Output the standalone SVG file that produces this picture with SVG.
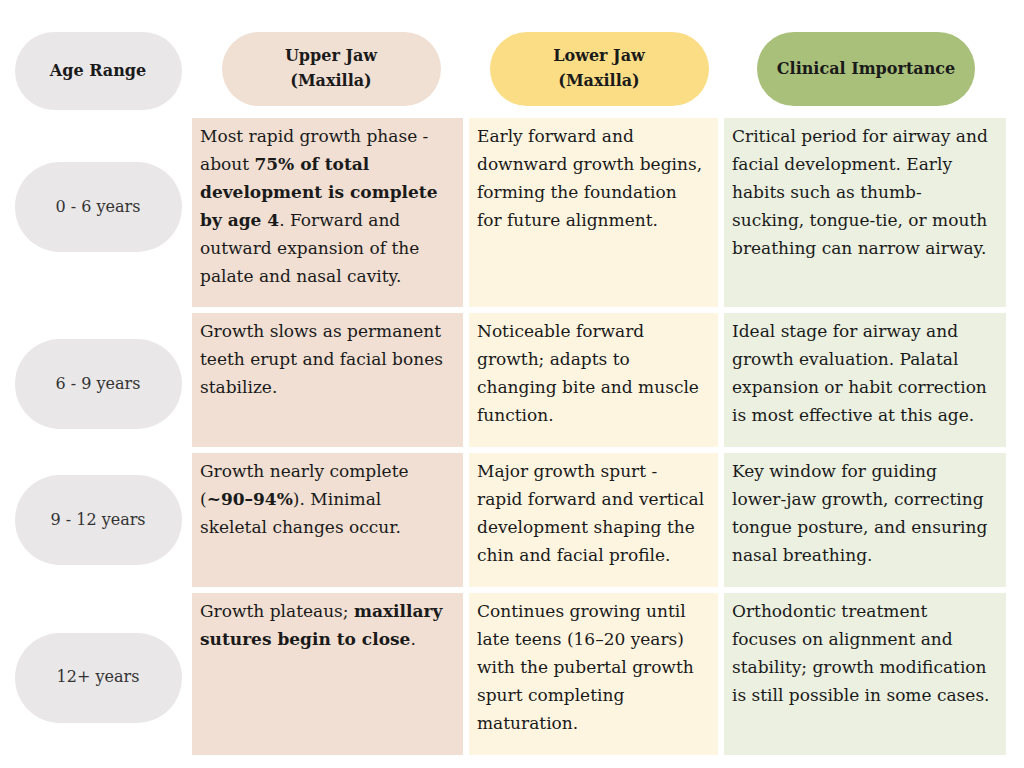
<svg xmlns="http://www.w3.org/2000/svg" width="1024" height="768" viewBox="0 0 1024 768">
<style>
.t{font-family:"DejaVu Serif","Liberation Serif",serif;font-size:17px;fill:#1a1a1a}
.h{font-family:"DejaVu Serif","Liberation Serif",serif;font-size:16px;font-weight:bold;fill:#1a1a1a;text-anchor:middle}
.a{font-family:"DejaVu Serif","Liberation Serif",serif;font-size:16px;fill:#333;text-anchor:middle}
.p{fill:#e9e7e8}
.c1{fill:#f0dfd2}.c2{fill:#fdf5e0}.c3{fill:#ebf0e0}
b{font-weight:bold}
</style>
<rect width="1024" height="768" fill="#fff"/>
<g id="headers">
<g id="h-age"><rect class="p" x="15" y="32" width="167" height="78" rx="39"/><text class="h" x="98" y="76">Age Range</text></g>
<g id="h-upper"><rect x="222" y="32" width="219" height="74" rx="37" fill="#f0dfd3"/><text class="h" x="331" y="61">Upper Jaw</text><text class="h" x="331" y="86">(Maxilla)</text></g>
<g id="h-lower"><rect x="490" y="32" width="219" height="74" rx="37" fill="#fbdd85"/><text class="h" x="599" y="61">Lower Jaw</text><text class="h" x="599" y="86">(Maxilla)</text></g>
<g id="h-clin"><rect x="757" y="32" width="218" height="74" rx="37" fill="#a9c07a"/><text class="h" x="866" y="74">Clinical Importance</text></g>
</g>
<g id="ages">
<g id="a1"><rect class="p" x="15" y="162" width="167" height="90" rx="45"/><text class="a" x="98" y="212">0 - 6 years</text></g>
<g id="a2"><rect class="p" x="15" y="339" width="167" height="90" rx="45"/><text class="a" x="98" y="389">6 - 9 years</text></g>
<g id="a3"><rect class="p" x="15" y="475" width="167" height="90" rx="45"/><text class="a" x="98" y="525">9 - 12 years</text></g>
<g id="a4"><rect class="p" x="15" y="633" width="167" height="90" rx="45"/><text class="a" x="98" y="682">12+ years</text></g>
</g>
<g id="cells">
<rect class="c1" x="192" y="118" width="271" height="189"/><rect class="c2" x="469" y="118" width="249" height="189"/><rect class="c3" x="724" y="118" width="282" height="189"/>
<rect class="c1" x="192" y="313" width="271" height="134"/><rect class="c2" x="469" y="313" width="249" height="134"/><rect class="c3" x="724" y="313" width="282" height="134"/>
<rect class="c1" x="192" y="453" width="271" height="134"/><rect class="c2" x="469" y="453" width="249" height="134"/><rect class="c3" x="724" y="453" width="282" height="134"/>
<rect class="c1" x="192" y="593" width="271" height="162"/><rect class="c2" x="469" y="593" width="249" height="162"/><rect class="c3" x="724" y="593" width="282" height="162"/>
</g>
<g id="text">
<text class="t" x="200" y="142">Most rapid growth phase -</text>
<text class="t" x="200" y="170">about <tspan font-weight="bold">75% of total</tspan></text>
<text class="t" x="200" y="198" font-weight="bold">development is complete</text>
<text class="t" x="200" y="226"><tspan font-weight="bold">by age 4</tspan>. Forward and</text>
<text class="t" x="200" y="254">outward expansion of the</text>
<text class="t" x="200" y="282">palate and nasal cavity.</text>
<text class="t" x="477" y="142">Early forward and</text>
<text class="t" x="477" y="170">downward growth begins,</text>
<text class="t" x="477" y="198">forming the foundation</text>
<text class="t" x="477" y="226">for future alignment.</text>
<text class="t" x="732" y="142">Critical period for airway and</text>
<text class="t" x="732" y="170">facial development. Early</text>
<text class="t" x="732" y="198">habits such as thumb-</text>
<text class="t" x="732" y="226">sucking, tongue-tie, or mouth</text>
<text class="t" x="732" y="254">breathing can narrow airway.</text>

<text class="t" x="200" y="337">Growth slows as permanent</text>
<text class="t" x="200" y="365">teeth erupt and facial bones</text>
<text class="t" x="200" y="393">stabilize.</text>
<text class="t" x="477" y="337">Noticeable forward</text>
<text class="t" x="477" y="365">growth; adapts to</text>
<text class="t" x="477" y="393">changing bite and muscle</text>
<text class="t" x="477" y="421">function.</text>
<text class="t" x="732" y="337">Ideal stage for airway and</text>
<text class="t" x="732" y="365">growth evaluation. Palatal</text>
<text class="t" x="732" y="393">expansion or habit correction</text>
<text class="t" x="732" y="421">is most effective at this age.</text>

<text class="t" x="200" y="477">Growth nearly complete</text>
<text class="t" x="200" y="505">(<tspan font-weight="bold">~90–94%</tspan>). Minimal</text>
<text class="t" x="200" y="533">skeletal changes occur.</text>
<text class="t" x="477" y="477">Major growth spurt -</text>
<text class="t" x="477" y="505">rapid forward and vertical</text>
<text class="t" x="477" y="533">development shaping the</text>
<text class="t" x="477" y="561">chin and facial profile.</text>
<text class="t" x="732" y="477">Key window for guiding</text>
<text class="t" x="732" y="505">lower-jaw growth, correcting</text>
<text class="t" x="732" y="533">tongue posture, and ensuring</text>
<text class="t" x="732" y="561">nasal breathing.</text>

<text class="t" x="200" y="617">Growth plateaus; <tspan font-weight="bold">maxillary</tspan></text>
<text class="t" x="200" y="645"><tspan font-weight="bold">sutures begin to close</tspan>.</text>
<text class="t" x="477" y="617">Continues growing until</text>
<text class="t" x="477" y="645">late teens (16–20 years)</text>
<text class="t" x="477" y="673">with the pubertal growth</text>
<text class="t" x="477" y="701">spurt completing</text>
<text class="t" x="477" y="729">maturation.</text>
<text class="t" x="732" y="617">Orthodontic treatment</text>
<text class="t" x="732" y="645">focuses on alignment and</text>
<text class="t" x="732" y="673">stability; growth modification</text>
<text class="t" x="732" y="701">is still possible in some cases.</text>
</g>
</svg>
